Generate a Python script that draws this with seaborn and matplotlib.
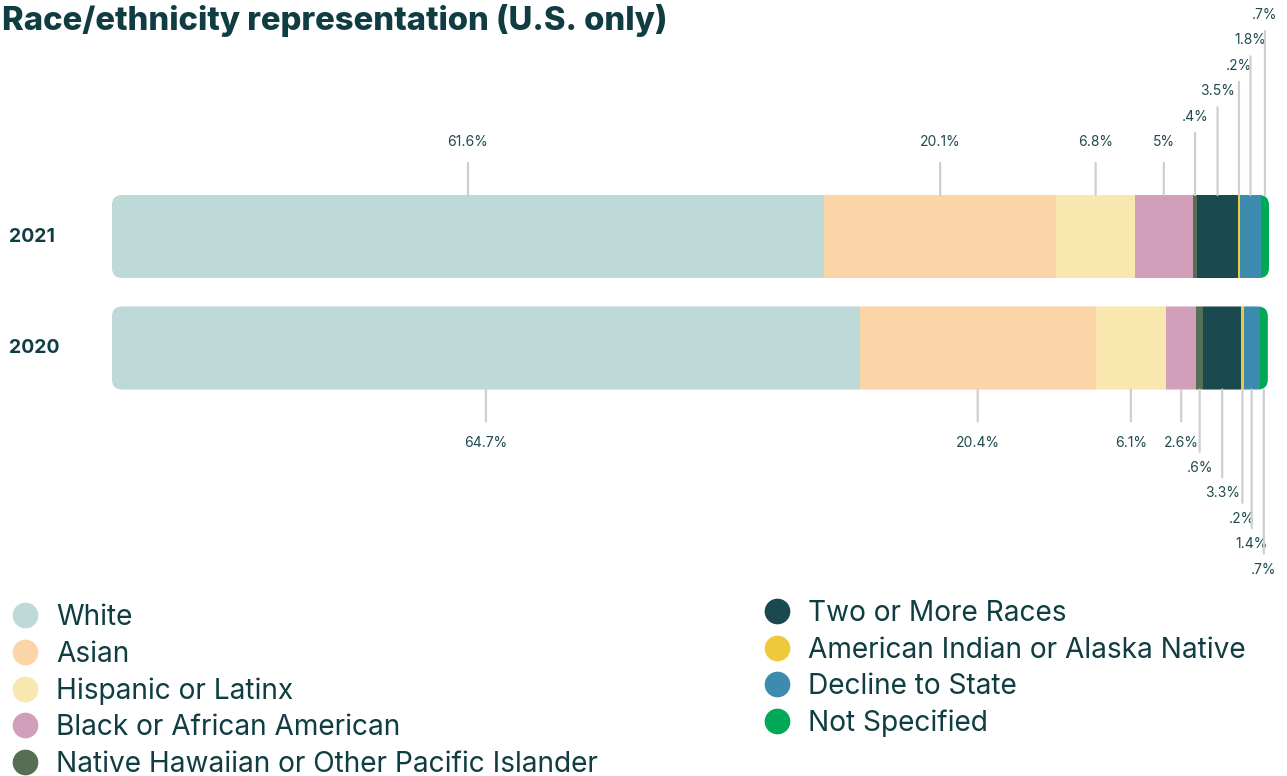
import numpy as np
import seaborn as sns
import matplotlib.pyplot as plt
from matplotlib.lines import Line2D
from matplotlib.patches import FancyBboxPatch
from matplotlib.transforms import IdentityTransform

categories = ["White", "Asian", "Hispanic or Latinx", "Black or African American",
              "Native Hawaiian or Other Pacific Islander", "Two or More Races",
              "American Indian or Alaska Native", "Decline to State", "Not Specified"]
years = ["2021", "2020"]
share_2021 = [61.6, 20.1, 6.8, 5.0, 0.4, 3.5, 0.2, 1.8, 0.7]
share_2020 = [64.7, 20.4, 6.1, 2.6, 0.6, 3.3, 0.2, 1.4, 0.7]
colors = ["#bdd9d8", "#fbd5a8", "#f9e7b0", "#d19fb9", "#566e53",
          "#1a4a50", "#efc93c", "#3d8bae", "#00a955"]

ink = "#0f3d42"
label_ink = "#1f4b50"
leader = "#cfcfcf"


def fmt(v):
    s = f"{v:g}%"
    return s[1:] if s.startswith("0.") else s


sns.set_theme(style="white")
plt.rcParams["font.family"] = ["Inter", "DejaVu Sans"]

W, H = 1287, 776
fig = plt.figure(figsize=(W / 100, H / 100), dpi=100)
ax = fig.add_axes([112 / W, 1 - 403.75 / H, 1157 / W, 223 / H])

shares = np.array([share_2021, share_2020])
lefts = np.cumsum(shares, axis=1) - shares
bar_h = 0.745

for i, cat in enumerate(categories):
    sns.barplot(x=shares[:, i], y=years, left=lefts[:, i], color=colors[i],
                saturation=1, width=bar_h, errorbar=None, orient="h",
                linewidth=0, edgecolor="none", ax=ax)

ax.set_xlim(0, shares.sum(axis=1).max())
ax.set_ylim(1.5, -0.5)
ax.set_xticks([])
ax.set_xlabel("")
ax.set_ylabel("")
sns.despine(ax=ax, left=True, bottom=True)
ax.tick_params(axis="y", length=0, pad=74)
for t in ax.get_yticklabels():
    t.set_fontweight("bold")
    t.set_fontsize(14)
    t.set_color(ink)
    t.set_ha("left")
    t.set_va("center")

# rounded ends on each whole bar
clips = []
for r in range(len(years)):
    x0, y0 = ax.transData.transform((0, r + bar_h / 2))
    x1, y1 = ax.transData.transform((shares[r].sum(), r - bar_h / 2))
    clips.append(FancyBboxPatch((x0, y0), x1 - x0, y1 - y0,
                                boxstyle="round,pad=0,rounding_size=10",
                                transform=IdentityTransform()))
for p in ax.patches:
    r = int(round(p.get_y() + p.get_height() / 2))
    p.set_clip_path(clips[r])

# value labels with leader lines
for r in range(len(years)):
    sign = 1 if r == 0 else -1
    edge = r - sign * bar_h / 2
    for i in range(len(categories)):
        cx = lefts[r, i] + shares[r, i] / 2
        level = max(0, i - 3)
        text_off = 53 + 25.4 * level
        line_len = text_off - (21 if level == 0 else 16)
        ax.annotate("", xy=(cx, edge), xytext=(0, sign * line_len),
                    textcoords="offset pixels", annotation_clip=False,
                    arrowprops=dict(arrowstyle="-", color=leader, lw=1.6,
                                    shrinkA=0, shrinkB=0))
        ax.annotate(fmt(shares[r, i]), xy=(cx, edge), xytext=(0, sign * text_off),
                    textcoords="offset pixels", ha="center", va="center",
                    fontsize=10, color=label_ink, annotation_clip=False)

fig.text(2 / W, 1 - 30 / H, "Race/ethnicity representation (U.S. only)",
         fontsize=23.6, fontweight=800, color=ink, va="baseline", ha="left")

handles = [Line2D([], [], marker="o", linestyle="", markersize=18.5,
                  markerfacecolor=c, markeredgewidth=0) for c in colors]
leg_kw = dict(frameon=False, loc="upper left", fontsize=20.2, labelcolor=ink,
              handlelength=1.0, handletextpad=0.6, labelspacing=0.34,
              borderpad=0, borderaxespad=0)
fig.legend(handles[:5], categories[:5], bbox_to_anchor=(11 / W, 1 - 604 / H), **leg_kw)
fig.legend(handles[5:], categories[5:], bbox_to_anchor=(763 / W, 1 - 600 / H), **leg_kw)

fig.savefig("out.png", dpi=100)
